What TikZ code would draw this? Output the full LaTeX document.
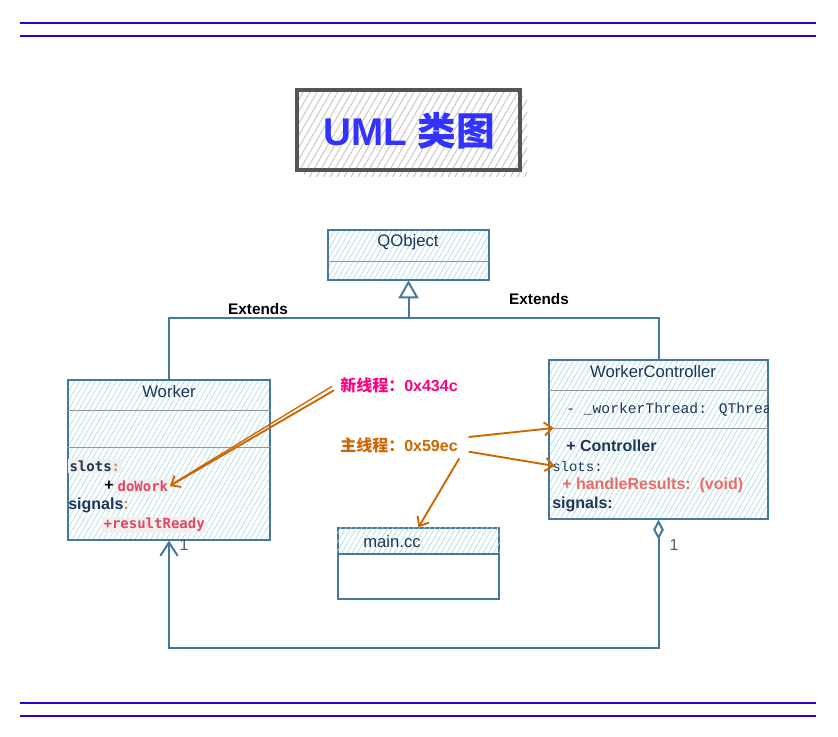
\documentclass[tikz,border=0pt]{standalone}
\usepackage{fontspec}
\setmainfont{Liberation Sans}
\newfontfamily\cjk{Noto Sans CJK SC}
\newfontfamily\monob{DejaVu Sans Mono}
\newfontfamily\cour{Liberation Mono}
\usetikzlibrary{patterns.meta,arrows.meta,fit}
\definecolor{ln}{RGB}{69,120,157}
\definecolor{hatch}{RGB}{172,220,225}
\definecolor{navy}{RGB}{29,53,87}
\definecolor{orng}{RGB}{204,102,0}
\definecolor{pinkc}{RGB}{255,0,128}
\definecolor{rulec}{RGB}{51,0,204}
\definecolor{redt}{RGB}{224,72,100}
\definecolor{redh}{RGB}{234,107,102}
\definecolor{tanc}{RGB}{190,150,110}
\definecolor{titleblue}{RGB}{51,51,255}
\definecolor{divc}{RGB}{150,150,150}
\tikzset{
  rulel/.style={draw=rulec, line width=1.6pt},
  umlbox/.style={draw=ln, line width=1pt, inner sep=0pt,
    pattern={Lines[angle=60,distance=3.4pt,line width=0.5pt]}, pattern color=hatch},
  plainbox/.style={draw=ln, line width=1pt, inner sep=0pt, fill=white},
  divl/.style={draw=divc, line width=0.7pt},
  conn/.style={draw=ln, line width=1.5pt},
  hdr/.style={text=navy, font=\fontsize{12.5}{15}\selectfont, inner sep=0pt},
  txt/.style={text=navy, anchor=west, inner sep=0pt, font=\fontsize{12}{14}\selectfont},
  ext/.style={text=black, font=\bfseries\fontsize{11.5}{14}\selectfont, inner sep=0pt},
  oarr/.style={draw=orng, line width=1.4pt, -{Straight Barb[length=6pt,width=10pt]}},
  oline/.style={draw=orng, line width=1pt},
  cjklab/.style={anchor=west, inner sep=0pt, font=\bfseries\fontsize{12}{14}\selectfont},
  mult/.style={text=navy!80, inner sep=0pt, font=\fontsize{12}{14}\selectfont}
}
\begin{document}
\begin{tikzpicture}[x=0.75pt,y=-0.75pt]
\useasboundingbox (0,0) rectangle (838,737);
% rules
\draw[rulel] (20,23) -- (816,23);
\draw[rulel] (20,36) -- (816,36);
\draw[rulel] (20,703) -- (816,703);
\draw[rulel] (20,716) -- (816,716);
% title
\fill[pattern={Lines[angle=60,distance=4.5pt,line width=0.7pt]}, pattern color=gray!50] (304,97) rectangle (527,177);
\node[fit={(297,90)(520,170)}, inner sep=0pt, preaction={fill=white},
  pattern={Lines[angle=60,distance=4.5pt,line width=0.7pt]}, pattern color=gray!45,
  draw={rgb,255:red,85;green,85;blue,85}, line width=3pt] (titlebox) {};
\node[inner sep=0pt, text=titleblue, font=\bfseries\fontsize{29}{34}\selectfont] (title) at (409,131) {UML {\cjk\bfseries 类图}};
% boxes
\node[umlbox, fit={(328,230)(489,280)}] (qobj) {};
\draw[divl] (qobj.west |- 0,261) -- (qobj.east |- 0,261);
\node[hdr] (qobjt) at (408,242) {QObject};

\node[umlbox, fit={(68,380)(270,540)}] (worker) {};
\draw[divl] (worker.west |- 0,410) -- (worker.east |- 0,410);
\draw[divl] (worker.west |- 0,447) -- (worker.east |- 0,447);
\node[hdr] (workert) at (169,392) {Worker};

\node[umlbox, fit={(549,360)(768,519)}] (ctrl) {};
\draw[divl] (ctrl.west |- 0,390) -- (ctrl.east |- 0,390);
\draw[divl] (ctrl.west |- 0,428) -- (ctrl.east |- 0,428);
\node[hdr] (ctrlt) at (653,372) {WorkerController};

\node[plainbox, fit={(338,528)(499,599)}] (mainc) {};
\fill[pattern={Lines[angle=60,distance=3.4pt,line width=0.5pt]}, pattern color=hatch] (mainc.north west) rectangle (mainc.east |- 0,554);
\draw[draw=ln, line width=0.9pt] (mainc.west |- 0,554) -- (mainc.east |- 0,554);
\node[hdr, anchor=west] (maint) at (363,542) {main.cc};

% Worker contents
\node[txt, fill=gray!12, inner sep=1pt, font=\monob\bfseries\fontsize{10.5}{12}\selectfont] (wslots) at (68,466) {slots{\color{tanc}:}};
\node[txt, text=black, font=\bfseries\fontsize{12}{14}\selectfont] (wplus) at (104,486) {+};
\node[txt, fill=gray!12, inner sep=1pt, text=redt, font=\monob\bfseries\fontsize{10.5}{12}\selectfont] (dowork) at (116,486) {doWork};
\node[txt, font=\bfseries\fontsize{12}{14}\selectfont] (wsig) at (68,505) {signals{\color{tanc}:}};
\node[txt, fill=gray!12, inner sep=1pt, text=redt, font=\monob\bfseries\fontsize{10.5}{12}\selectfont] (wres) at (102,525) {+resultReady};

% Controller contents
\begin{scope}
\clip (ctrl.south west) rectangle (ctrl.north east);
\node[txt, font=\cour\fontsize{11}{13}\selectfont] (wthread) at (566,410) {- \_workerThread: QThread};
\end{scope}
\node[txt, font=\bfseries\fontsize{12}{14}\selectfont] (ctrlc) at (566,446) {+ Controller};
\node[txt, font=\cour\fontsize{10.5}{12}\selectfont] (cslots) at (552,466) {slots:};
\node[txt, text=redh, font=\bfseries\fontsize{12}{14}\selectfont] (handle) at (562,485) {+ handleResults:~~(void)};
\node[txt, font=\bfseries\fontsize{12}{14}\selectfont] (csig) at (552,504) {signals:};

% inheritance
\draw[conn] (worker.north) -- (worker.north |- 0,318) -- (ctrl.north |- 0,318) -- (ctrl.north);
\draw[conn, -{Triangle[open, length=13.5pt, width=15pt, line width=1.5pt]}] (qobj.south |- 0,318) -- (qobj.south);
\node[ext] (ext1) at (258,309) {Extends};
\node[ext] (ext2) at (539,299) {Extends};

% association
\draw[conn, {Straight Barb[length=10pt, width=13pt]}-{Diamond[open, length=15pt, width=8pt, line width=1.5pt]}]
  (worker.south) -- (worker.south |- 0,648) -| (ctrl.south);
\node[mult] (m1) at (184,545) {1};
\node[mult] (m2) at (674,545) {1};

% thread labels
\node[cjklab, text=pinkc] (newt) at (340,385) {{\cjk\bfseries 新线程：}0x434c};
\node[cjklab, text=orng] (maint2) at (340,445) {{\cjk\bfseries 主线程：}0x59ec};
\draw[oline] ([shift={(-6pt,-1pt)}]newt.west) -- ([shift={(1pt,1pt)}]dowork.east);
\draw[oarr] ([shift={(-4.5pt,-4pt)}]newt.west) -- (dowork.east);
\draw[oarr] ([shift={(8pt,6pt)}]maint2.east) -- ([xshift=4pt]ctrl.west |- 0,428);
\draw[oarr] ([shift={(8pt,-5pt)}]maint2.east) -- ([xshift=2pt]cslots.west);
\draw[oarr] ([shift={(1pt,-10pt)}]maint2.east) -- (mainc.north);
\end{tikzpicture}
\end{document}
